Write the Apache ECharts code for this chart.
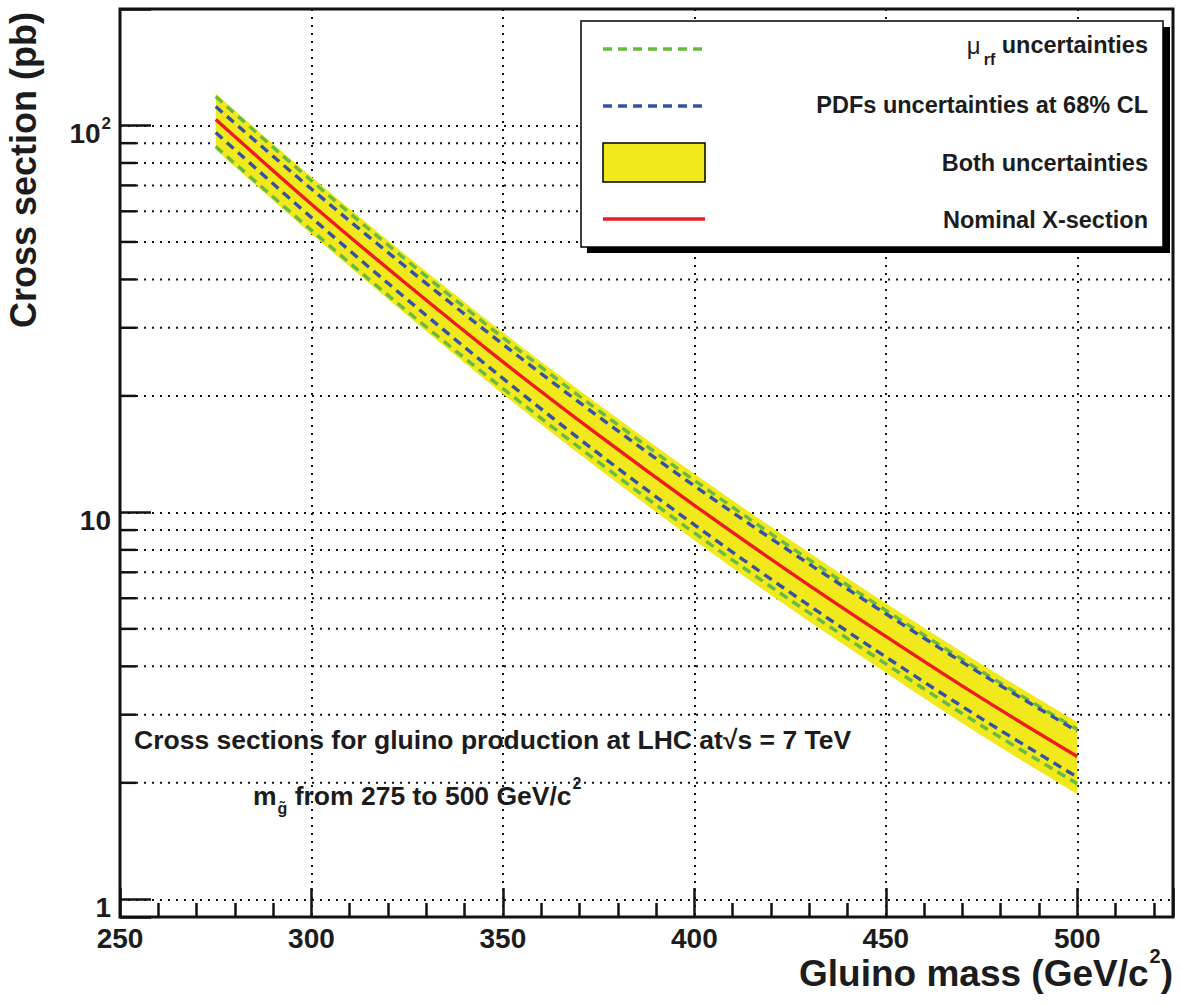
<!DOCTYPE html>
<html>
<head>
<meta charset="utf-8">
<script src="https://cdn.jsdelivr.net/npm/echarts@6/dist/echarts.min.js"></script>
<style>
html,body{margin:0;padding:0;background:#fff;}
#c{width:1181px;height:1005px;}
</style>
</head>
<body>
<div id="c"></div>
<script>
// ---- data ----
const masses    = [275, 300, 325, 350, 375, 400, 425, 450, 475, 500];
const nominal   = [103.6, 62.6, 38.8, 24.5, 15.83, 10.43, 7.00, 4.78, 3.31, 2.34];
const murfUp    = [118.8, 72.0, 44.7, 28.3, 18.33, 12.10, 8.15, 5.58, 3.88, 2.75];
const murfDown  = [88.2, 53.6, 33.1, 20.9, 13.48, 8.85, 5.94, 4.06, 2.81, 1.99];
const pdfUp     = [111.9, 68.5, 42.8, 27.2, 17.67, 11.71, 7.93, 5.47, 3.82, 2.72];
const pdfDown   = [95.9, 57.8, 35.5, 22.2, 14.18, 9.29, 6.21, 4.23, 2.93, 2.07];
const bothUp    = [120.7, 73.7, 46.0, 29.2, 18.99, 12.58, 8.50, 5.82, 4.05, 2.87];
const bothDown  = [86.6, 52.4, 32.3, 20.2, 12.96, 8.47, 5.65, 3.85, 2.65, 1.87];

const xTickLabels = [250, 300, 350, 400, 450, 500];
const yMajorTicks = [1, 10, 100];
const yMinorTicks = [2, 3, 4, 5, 6, 7, 8, 9, 20, 30, 40, 50, 60, 70, 80, 90];
const X_MIN = 250, X_MAX = 525, Y_MIN = 0.9, Y_MAX = 200;

// ---- styles ----
const FONT = '"Liberation Sans", Arial, Helvetica, sans-serif';
const INK = '#1c1c1c';
const FRAME = '#111111';
const YELLOW = '#f1e91b';
const GREEN = '#66bb44';
const BLUE = '#3451a3';
const RED = '#ed1c24';
const SMOOTH = 1 / 3;

const chart = echarts.init(document.getElementById('c'), null, {renderer: 'svg', width: 1181, height: 1005});

function pairs(ys) { return masses.map((m, i) => [m, ys[i]]); }

function yLabel(v) {
  const t = yMajorTicks.find(k => Math.abs(k - v) / k < 1e-6);
  if (t === undefined) return '';
  if (t === 100) return '{a|10}{b|2}';
  return '{a|' + t + '}';
}

// Catmull-Rom path through pixel points (continuing an existing path)
function splinePath(pts, start) {
  let d = start ? 'M' + pts[0][0] + ',' + pts[0][1] : 'L' + pts[0][0] + ',' + pts[0][1];
  for (let i = 0; i < pts.length - 1; i++) {
    const p0 = pts[Math.max(i - 1, 0)], p1 = pts[i], p2 = pts[i + 1], p3 = pts[Math.min(i + 2, pts.length - 1)];
    const c1 = [p1[0] + (p2[0] - p0[0]) / 6, p1[1] + (p2[1] - p0[1]) / 6];
    const c2 = [p2[0] - (p3[0] - p1[0]) / 6, p2[1] - (p3[1] - p1[1]) / 6];
    d += 'C' + c1[0] + ',' + c1[1] + ' ' + c2[0] + ',' + c2[1] + ' ' + p2[0] + ',' + p2[1];
  }
  return d;
}

function dashed(name, ys, color, z) {
  return {name: name, type: 'line', z: z, data: pairs(ys), showSymbol: false, silent: true, smooth: SMOOTH,
    lineStyle: {color: color, width: 3.4, type: [9, 6]}};
}

const option = {
  animation: false,
  backgroundColor: '#ffffff',
  textStyle: {fontFamily: FONT},
  grid: {left: 120, right: 8, top: 9, bottom: 88, show: true, borderColor: FRAME, borderWidth: 3, backgroundColor: 'transparent'},
  xAxis: {
    type: 'value', min: X_MIN, max: X_MAX, interval: 50,
    axisLine: {show: false},
    axisTick: {show: true, inside: true, length: 29, lineStyle: {color: FRAME, width: 2.5}},
    minorTick: {show: true, splitNumber: 5, length: 14, lineStyle: {color: FRAME, width: 2.5}},
    axisLabel: {margin: 7, fontSize: 28, fontWeight: 'bold', color: INK, fontFamily: FONT,
      formatter: v => xTickLabels.includes(v) ? String(v) : ''},
    splitLine: {show: true, lineStyle: {color: FRAME, width: 2, type: [2, 6]}}
  },
  yAxis: {
    type: 'log', logBase: 10, min: Y_MIN, max: Y_MAX,
    axisLine: {show: false},
    axisTick: {show: true, inside: true, length: 31, lineStyle: {color: FRAME, width: 2.5}},
    minorTick: {show: false},
    axisLabel: {margin: 9, formatter: yLabel,
      rich: {
        a: {fontSize: 28, fontWeight: 'bold', lineHeight: 28, padding: [8, 0, 0, 0], verticalAlign: 'top', color: INK, fontFamily: FONT},
        b: {fontSize: 17, fontWeight: 'bold', lineHeight: 17, padding: [4, 0, 0, 1], verticalAlign: 'top', color: INK, fontFamily: FONT}
      }},
    splitLine: {show: true, lineStyle: {color: FRAME, width: 2, type: [2, 6]}}
  },
  series: [
    {
      name: 'minorGrid', type: 'custom', z: 1, silent: true,
      data: yMinorTicks.map(v => [X_MIN, v]),
      renderItem: function (params, api) {
        const v = api.value(1);
        const p0 = api.coord([X_MIN, v]);
        const p1 = api.coord([X_MAX, v]);
        return {type: 'group', children: [
          {type: 'line', shape: {x1: p0[0] + 16, y1: p0[1], x2: p1[0], y2: p1[1]},
            style: {stroke: FRAME, lineWidth: 2, lineDash: [2, 6]}},
          {type: 'line', shape: {x1: p0[0], y1: p0[1], x2: p0[0] + 16, y2: p0[1]},
            style: {stroke: FRAME, lineWidth: 2.5}}
        ]};
      }
    },
    {
      name: 'Both uncertainties', type: 'custom', z: 2, silent: true,
      data: masses.map((m, i) => [m, bothDown[i], bothUp[i]]),
      encode: {x: 0, y: [1, 2]},
      renderItem: function (params, api) {
        if (params.dataIndex !== 0) return null;
        const upper = masses.map((m, i) => api.coord([m, bothUp[i]]));
        const lower = masses.map((m, i) => api.coord([m, bothDown[i]])).reverse();
        const d = splinePath(upper, true) + splinePath(lower, false) + 'Z';
        return {type: 'path', shape: {pathData: d}, style: {fill: YELLOW, stroke: null}};
      }
    },
    dashed('mu_rf up', murfUp, GREEN, 3),
    dashed('mu_rf down', murfDown, GREEN, 3),
    dashed('PDF up', pdfUp, BLUE, 4),
    dashed('PDF down', pdfDown, BLUE, 4),
    {name: 'Nominal X-section', type: 'line', z: 5, data: pairs(nominal), showSymbol: false, silent: true, smooth: SMOOTH,
      lineStyle: {color: RED, width: 3.4, type: 'solid'}}
  ],
  graphic: [
    // y axis title
    {type: 'text', x: 41, y: 328, rotation: Math.PI / 2,
      style: {text: 'Cross section (pb)', font: 'bold 36px ' + FONT, fill: INK, align: 'left', verticalAlign: 'bottom'}},
    // x axis title
    {type: 'text', x: 1173, y: 945,
      style: {text: '{a|Gluino mass (GeV/c}{b|2}{a|)}', align: 'right', verticalAlign: 'top',
        rich: {
          a: {fontSize: 37, fontWeight: 'bold', lineHeight: 37, padding: [10, 0, 0, 0], verticalAlign: 'top', fill: INK, fontFamily: FONT},
          b: {fontSize: 20, fontWeight: 'bold', lineHeight: 20, padding: [1, 0, 0, 1], verticalAlign: 'top', fill: INK, fontFamily: FONT}
        }}},
    // annotations
    {type: 'text', x: 134, y: 740,
      style: {text: 'Cross sections for gluino production at LHC at\u221As = 7 TeV', font: 'bold 26.5px ' + FONT, fill: INK, align: 'left', verticalAlign: 'middle'}},
    {type: 'text', x: 253, y: 774,
      style: {text: '{t|m}{g|g\u0303}{t| from 275 to 500 GeV/c}{p|2}', align: 'left', verticalAlign: 'top',
        rich: {
          t: {fontSize: 26.5, fontWeight: 'bold', lineHeight: 27, padding: [8, 0, 0, 0], verticalAlign: 'top', fill: INK, fontFamily: FONT},
          g: {fontSize: 16, fontWeight: 'bold', lineHeight: 16, padding: [26, 0, 0, 1], verticalAlign: 'top', fill: INK, fontFamily: FONT},
          p: {fontSize: 16, fontWeight: 'bold', lineHeight: 16, padding: [1, 0, 0, 1], verticalAlign: 'top', fill: INK, fontFamily: FONT}
        }}},
    // legend shadow + box
    {type: 'rect', shape: {x: 587, y: 27, width: 583, height: 226}, style: {fill: '#000'}, z: 100},
    {type: 'rect', shape: {x: 581, y: 21, width: 582, height: 226}, style: {fill: '#fff', stroke: '#000', lineWidth: 1.5}, z: 101},
    {type: 'line', shape: {x1: 603, y1: 49, x2: 705, y2: 49}, style: {stroke: GREEN, lineWidth: 3.4, lineDash: [9, 6]}, z: 102},
    {type: 'line', shape: {x1: 603, y1: 106, x2: 705, y2: 106}, style: {stroke: BLUE, lineWidth: 3.4, lineDash: [9, 6]}, z: 102},
    {type: 'rect', shape: {x: 603, y: 143, width: 102, height: 39}, style: {fill: YELLOW, stroke: '#000', lineWidth: 1.5}, z: 102},
    {type: 'line', shape: {x1: 603, y1: 219, x2: 705, y2: 219}, style: {stroke: RED, lineWidth: 3.4}, z: 102},
    {type: 'text', x: 1148, y: 33, z: 102,
      style: {text: '{m|\u03BC}{s|rf}{t| uncertainties}', align: 'right', verticalAlign: 'top',
        rich: {
          m: {fontSize: 24, fontWeight: 'normal', lineHeight: 24, verticalAlign: 'top', fill: INK, fontFamily: FONT},
          t: {fontSize: 23.5, fontWeight: 'bold', lineHeight: 24, verticalAlign: 'top', fill: INK, fontFamily: FONT},
          s: {fontSize: 16, fontWeight: 'bold', lineHeight: 16, padding: [18, 0, 0, 3], verticalAlign: 'top', fill: INK, fontFamily: FONT}
        }}},
    {type: 'text', x: 1148, y: 105, z: 102,
      style: {text: 'PDFs uncertainties at 68% CL', font: 'bold 23.5px ' + FONT, fill: INK, align: 'right', verticalAlign: 'middle'}},
    {type: 'text', x: 1148, y: 163, z: 102,
      style: {text: 'Both uncertainties', font: 'bold 23.5px ' + FONT, fill: INK, align: 'right', verticalAlign: 'middle'}},
    {type: 'text', x: 1148, y: 220, z: 102,
      style: {text: 'Nominal X-section', font: 'bold 23.5px ' + FONT, fill: INK, align: 'right', verticalAlign: 'middle'}}
  ]
};
chart.setOption(option);
</script>
</body>
</html>
